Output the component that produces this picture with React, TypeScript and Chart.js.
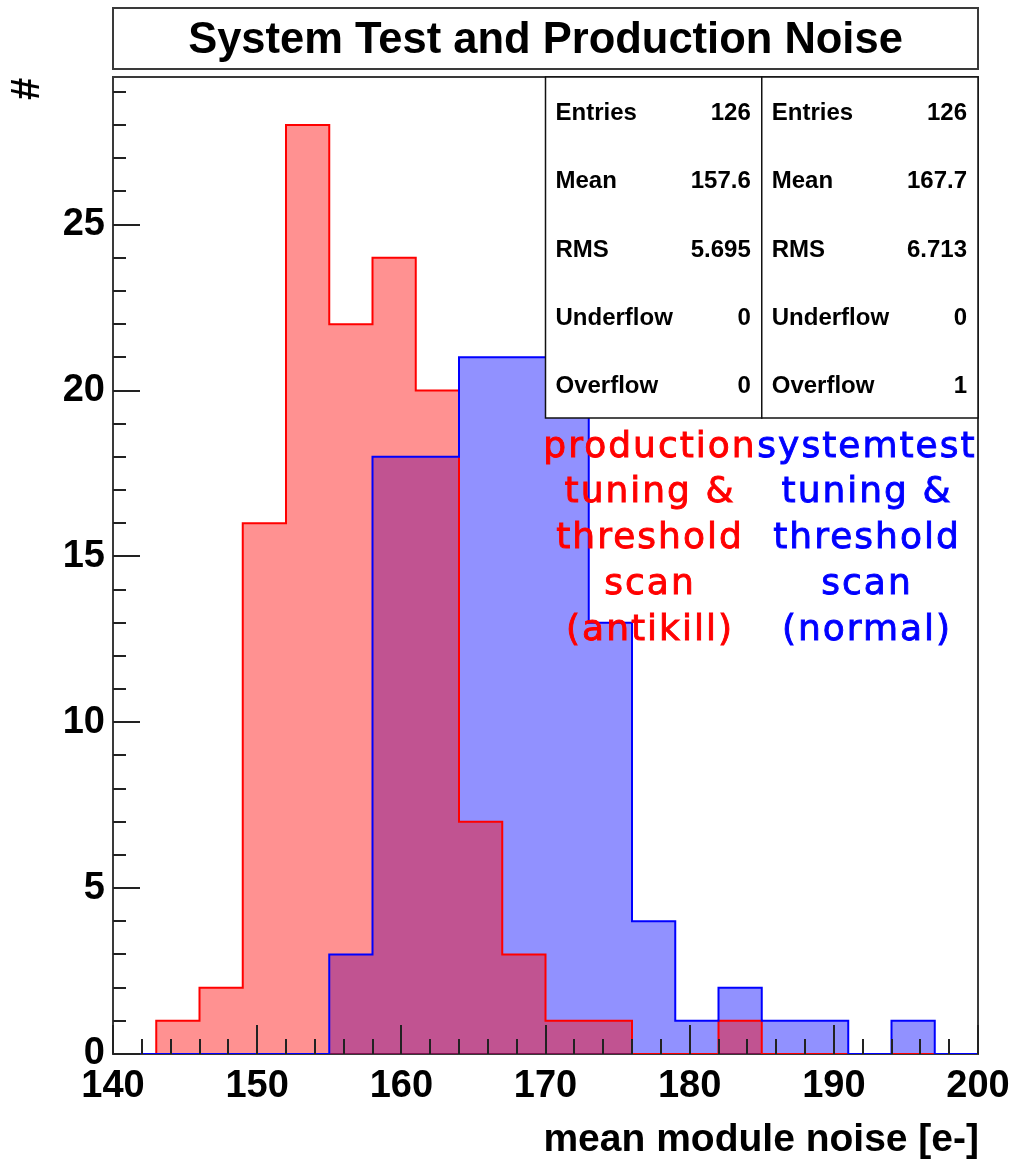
import React, { useEffect, useRef } from "react";
import { Chart, registerables } from "chart.js";
Chart.register(...registerables);

// ---- data ----
const binLowEdges = [140, 143, 146, 149, 152, 155, 158, 161, 164, 167, 170, 173, 176, 179, 182, 185, 188, 191, 194, 197];
const binUpperEdge = 200;
const productionCounts = [0, 1, 2, 16, 28, 22, 24, 20, 7, 3, 1, 1, 0, 0, 1, 0, 0, 0, 0, 0];
const systemtestCounts = [0, 0, 0, 0, 0, 3, 18, 18, 21, 21, 21, 13, 4, 1, 2, 1, 1, 0, 1, 0];
const xTickLabels = [140, 150, 160, 170, 180, 190, 200];
const yTickLabels = [0, 5, 10, 15, 20, 25];
const xMinorStep = 2;
const yMinorStep = 1;
const statLabels = ["Entries", "Mean", "RMS", "Underflow", "Overflow"];
const productionStats = ["126", "157.6", "5.695", "0", "0"];
const systemtestStats = ["126", "167.7", "6.713", "0", "1"];
const productionText = ["production", "tuning &", "threshold", "scan", "(antikill)"];
const systemtestText = ["systemtest", "tuning &", "threshold", "scan", "(normal)"];
const titleText = "System Test and Production Noise";
const xTitle = "mean module noise [e-]";
const yTitle = "#";

const FONT = "'Liberation Sans', Arial, Helvetica, sans-serif";

function toSteps(counts: number[]) {
  const pts = binLowEdges.map((x, i) => ({ x, y: counts[i] }));
  pts.push({ x: binUpperEdge, y: 0 });
  return pts;
}

const decorPlugin = {
  id: "decor",
  beforeDatasetsDraw(chart: any) {
    const { ctx, chartArea: a } = chart;
    ctx.save();
    ctx.strokeStyle = "#3a3a3a";
    ctx.lineWidth = 2;
    ctx.strokeRect(a.left, a.top, a.right - a.left, a.bottom - a.top);
    ctx.restore();
  },
  afterDatasetsDraw(chart: any) {
    const { ctx, chartArea: a, scales } = chart;
    const xs = scales.x;
    const ys = scales.y;
    ctx.save();
    // ticks inside the frame
    ctx.strokeStyle = "#222";
    ctx.lineWidth = 2;
    ctx.beginPath();
    for (let v = xs.min; v <= xs.max + 1e-9; v += xMinorStep) {
      const px = Math.round(xs.getPixelForValue(v));
      const major = xTickLabels.includes(v);
      const len = major ? 29 : 15;
      ctx.moveTo(px, a.bottom);
      ctx.lineTo(px, a.bottom - len);
    }
    for (let v = 0; v <= ys.max + 1e-9; v += yMinorStep) {
      const py = Math.round(ys.getPixelForValue(v));
      const major = yTickLabels.includes(v);
      const len = major ? 27 : 13;
      ctx.moveTo(a.left, py);
      ctx.lineTo(a.left + len, py);
    }
    ctx.stroke();

    // stats boxes
    const boxW = (a.right - a.left) * 0.25;
    const boxH = 341;
    const boxes = [
      { x: a.right - 2 * boxW, vals: productionStats },
      { x: a.right - boxW, vals: systemtestStats },
    ];
    const rowBase = [120, 188, 257, 325, 393];
    boxes.forEach((b) => {
      ctx.fillStyle = "#fff";
      ctx.fillRect(b.x, a.top, boxW, boxH);
      ctx.strokeStyle = "#111";
      ctx.lineWidth = 1.5;
      ctx.strokeRect(b.x, a.top, boxW, boxH);
      ctx.fillStyle = "#000";
      ctx.font = `bold 24px ${FONT}`;
      ctx.textBaseline = "alphabetic";
      statLabels.forEach((lab, i) => {
        ctx.textAlign = "left";
        ctx.fillText(lab, b.x + 10, rowBase[i]);
        ctx.textAlign = "right";
        ctx.fillText(b.vals[i], b.x + boxW - 11, rowBase[i]);
      });
    });

    // coloured annotation texts
    const lineBase = [457, 502, 548, 594, 640];
    ctx.font = `36px 'DejaVu Sans', Verdana, sans-serif`;
    ctx.textAlign = "center";
    ctx.lineWidth = 0.9;
    (ctx as any).letterSpacing = "2px";
    productionText.forEach((t, i) => {
      ctx.fillStyle = "#ff0000";
      ctx.strokeStyle = "#ff0000";
      ctx.fillText(t, 650, lineBase[i]);
      ctx.strokeText(t, 650, lineBase[i]);
    });
    systemtestText.forEach((t, i) => {
      ctx.fillStyle = "#0000ff";
      ctx.strokeStyle = "#0000ff";
      ctx.fillText(t, 867, lineBase[i]);
      ctx.strokeText(t, 867, lineBase[i]);
    });
    (ctx as any).letterSpacing = "0px";
    ctx.restore();
  },
  afterDraw(chart: any) {
    const { ctx, chartArea: a } = chart;
    ctx.save();
    // title box
    ctx.fillStyle = "#fff";
    ctx.fillRect(a.left, 8, a.right - a.left, 61);
    ctx.strokeStyle = "#3a3a3a";
    ctx.lineWidth = 2;
    ctx.strokeRect(a.left, 8, a.right - a.left, 61);
    ctx.fillStyle = "#000";
    ctx.font = `bold 43.5px ${FONT}`;
    ctx.textAlign = "center";
    ctx.textBaseline = "alphabetic";
    ctx.fillText(titleText, (a.left + a.right) / 2, 53);
    // axis titles
    ctx.font = `bold 39px ${FONT}`;
    ctx.textAlign = "right";
    ctx.fillText(xTitle, a.right + 1, 1151);
    // rotated y title
    ctx.save();
    ctx.translate(28, 89);
    ctx.rotate(-Math.PI / 2);
    ctx.font = `bold 40px ${FONT}`;
    ctx.textAlign = "center";
    ctx.textBaseline = "middle";
    ctx.fillText(yTitle, 0, 0);
    ctx.restore();
    ctx.restore();
  },
};

export default function App() {
  const ref = useRef<HTMLCanvasElement>(null);
  useEffect(() => {
    document.body.style.margin = "0";
    const canvas = ref.current!;
    const chart = new Chart(canvas, {
      type: "line",
      data: {
        datasets: [
          {
            label: "systemtest line",
            data: toSteps(systemtestCounts),
            stepped: "before",
            borderColor: "#0000ff",
            borderWidth: 2,
            fill: false,
            pointRadius: 0,
            order: 0,
          },
          {
            label: "production line",
            data: toSteps(productionCounts),
            stepped: "before",
            borderColor: "#ff0000",
            borderWidth: 2,
            fill: false,
            pointRadius: 0,
            order: 1,
          },
          {
            label: "production fill",
            data: toSteps(productionCounts),
            stepped: "before",
            borderColor: "rgba(0,0,0,0)",
            borderWidth: 0,
            backgroundColor: "rgba(255,0,0,0.43)",
            fill: "origin",
            pointRadius: 0,
            order: 2,
          },
          {
            label: "systemtest fill",
            data: toSteps(systemtestCounts),
            stepped: "before",
            borderColor: "rgba(0,0,0,0)",
            borderWidth: 0,
            backgroundColor: "rgba(0,0,255,0.43)",
            fill: "origin",
            pointRadius: 0,
            order: 3,
          },
        ],
      },
      options: {
        animation: false,
        responsive: false,
        maintainAspectRatio: false,
        devicePixelRatio: 1,
        layout: { padding: { left: 0, right: 36, top: 77, bottom: 46 } },
        plugins: {
          legend: { display: false },
          tooltip: { enabled: false },
          title: { display: false },
        },
        scales: {
          x: {
            type: "linear",
            min: 140,
            max: 200,
            grid: { display: false, drawTicks: false },
            border: { display: false },
            ticks: {
              font: { family: FONT, size: 38, weight: "bold" },
              color: "#000",
              padding: 10,
              maxRotation: 0,
              autoSkip: false,
              includeBounds: false,
            },
            afterBuildTicks: (s: any) => {
              s.ticks = xTickLabels.map((v) => ({ value: v }));
            },
            afterFit: (s: any) => {
              s.height = 60;
              s.paddingLeft = 0;
              s.paddingRight = 0;
            },
          },
          y: {
            type: "linear",
            min: 0,
            max: 29.45,
            grid: { display: false, drawTicks: false },
            border: { display: false },
            ticks: {
              font: { family: FONT, size: 38, weight: "bold" },
              color: "#000",
              padding: 8,
              autoSkip: false,
              includeBounds: false,
            },
            afterBuildTicks: (s: any) => {
              s.ticks = yTickLabels.map((v) => ({ value: v }));
            },
            afterFit: (s: any) => {
              s.width = 113;
              s.paddingTop = 0;
              s.paddingBottom = 0;
            },
          },
        },
      },
      plugins: [decorPlugin],
    } as any);
    return () => chart.destroy();
  }, []);
  return (
    <div style={{ width: 1014, height: 1160, background: "#fff" }}>
      <canvas ref={ref} width={1014} height={1160} style={{ display: "block" }} />
    </div>
  );
}
